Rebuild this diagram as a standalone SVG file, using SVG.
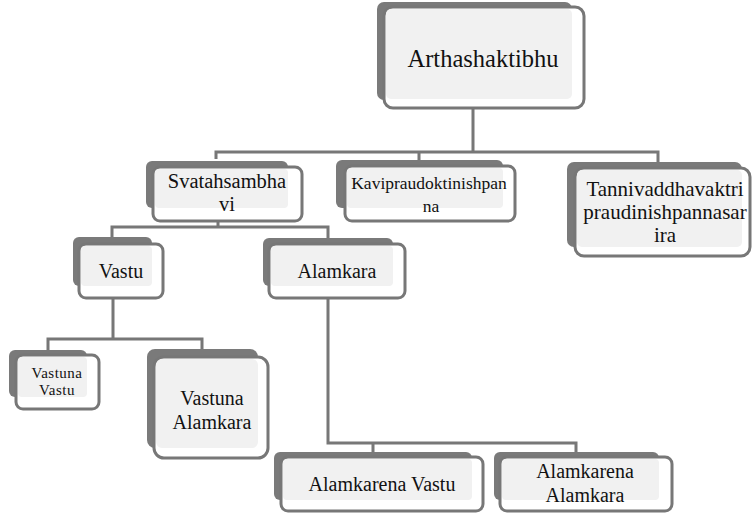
<svg xmlns="http://www.w3.org/2000/svg" width="753" height="518" viewBox="0 0 753 518">
<style>
.bg{fill:#ffffff}
.dk{fill:#7a7a7a}
.fr{fill:#ffffff;stroke:#777777;stroke-width:3}
.lt{fill:#f1f1f1}
.cn{fill:none;stroke:#777777;stroke-width:3}
text{fill:#111111;text-anchor:middle}
</style>
<rect class="bg" x="0" y="0" width="753" height="518"/>
<g id="connectors">
<path class="cn" d="M473 108 V152 M216 159 V152 H658 V162 M419 152 V161"/>
<path class="cn" d="M218 221 V227 M112 237 V227 H328 V238"/>
<path class="cn" d="M113 298 V339 M48 350 V339 H202 V349"/>
<path class="cn" d="M328 298 V443 H576 V452 M373 443 V452"/>
</g>
<g font-family="Liberation Serif, Times New Roman, DejaVu Serif, serif">
<g id="arthashaktibhu">
<rect class="dk" x="377" y="2" width="195" height="98" rx="7"/>
<rect class="fr" x="384" y="7" width="200" height="101" rx="9"/>
<rect class="lt" x="386" y="9" width="186" height="90" rx="5"/>
<text x="483" y="67" font-size="24.5">Arthashaktibhu</text>
</g>
<g id="svatahsambhavi">
<rect class="dk" x="146" y="161" width="142" height="47" rx="6"/>
<rect class="fr" x="153" y="167" width="149" height="54" rx="7"/>
<rect class="lt" x="155" y="169" width="133" height="39" rx="4"/>
<text x="227" y="188" font-size="20.5">Svatahsambha</text>
<text x="227" y="211" font-size="20.5">vi</text>
</g>
<g id="kavipraudoktinishpanna">
<rect class="dk" x="336" y="160" width="167" height="48" rx="6"/>
<rect class="fr" x="345" y="166" width="170" height="55" rx="7"/>
<rect class="lt" x="347" y="168" width="156" height="40" rx="4"/>
<text x="429" y="189" font-size="17.5">Kavipraudoktinishpan</text>
<text x="431" y="212" font-size="17.5">na</text>
</g>
<g id="tannivaddhavaktri">
<rect class="dk" x="567" y="162" width="175" height="85" rx="7"/>
<rect class="fr" x="575" y="168" width="175" height="88" rx="9"/>
<rect class="lt" x="577" y="170" width="165" height="77" rx="5"/>
<text x="665" y="196" font-size="21">Tannivaddhavaktri</text>
<text x="665" y="219" font-size="21">praudinishpannasar</text>
<text x="665" y="242" font-size="21">ira</text>
</g>
<g id="vastu">
<rect class="dk" x="73" y="237" width="79" height="49" rx="6"/>
<rect class="fr" x="79" y="244" width="84" height="54" rx="7"/>
<rect class="lt" x="81" y="246" width="71" height="40" rx="4"/>
<text x="121" y="278" font-size="20">Vastu</text>
</g>
<g id="alamkara">
<rect class="dk" x="263" y="238" width="130" height="48" rx="6"/>
<rect class="fr" x="269" y="244" width="136" height="54" rx="7"/>
<rect class="lt" x="271" y="246" width="122" height="40" rx="4"/>
<text x="337" y="278" font-size="20">Alamkara</text>
</g>
<g id="vastuna-vastu">
<rect class="dk" x="9" y="350" width="78" height="47" rx="6"/>
<rect class="fr" x="16" y="355" width="83" height="54" rx="7"/>
<rect class="lt" x="18" y="357" width="69" height="40" rx="4"/>
<text x="57" y="378" font-size="15" letter-spacing="0.5">Vastuna</text>
<text x="57" y="395" font-size="15" letter-spacing="0.5">Vastu</text>
</g>
<g id="vastuna-alamkara">
<rect class="dk" x="147" y="349" width="111" height="99" rx="8"/>
<rect class="fr" x="154" y="357" width="114" height="101" rx="10"/>
<rect class="lt" x="156" y="359" width="102" height="89" rx="6"/>
<text x="212" y="405" font-size="20">Vastuna</text>
<text x="212" y="429" font-size="20">Alamkara</text>
</g>
<g id="alamkarena-vastu">
<rect class="dk" x="274" y="452" width="198" height="48" rx="6"/>
<rect class="fr" x="281" y="457" width="202" height="54" rx="7"/>
<rect class="lt" x="283" y="459" width="189" height="41" rx="4"/>
<text x="382" y="491" font-size="20">Alamkarena Vastu</text>
</g>
<g id="alamkarena-alamkara">
<rect class="dk" x="494" y="452" width="165" height="48" rx="6"/>
<rect class="fr" x="500" y="457" width="172" height="54" rx="7"/>
<rect class="lt" x="502" y="459" width="157" height="41" rx="4"/>
<text x="585" y="478" font-size="20">Alamkarena</text>
<text x="585" y="502" font-size="20">Alamkara</text>
</g>
</g>
</svg>
